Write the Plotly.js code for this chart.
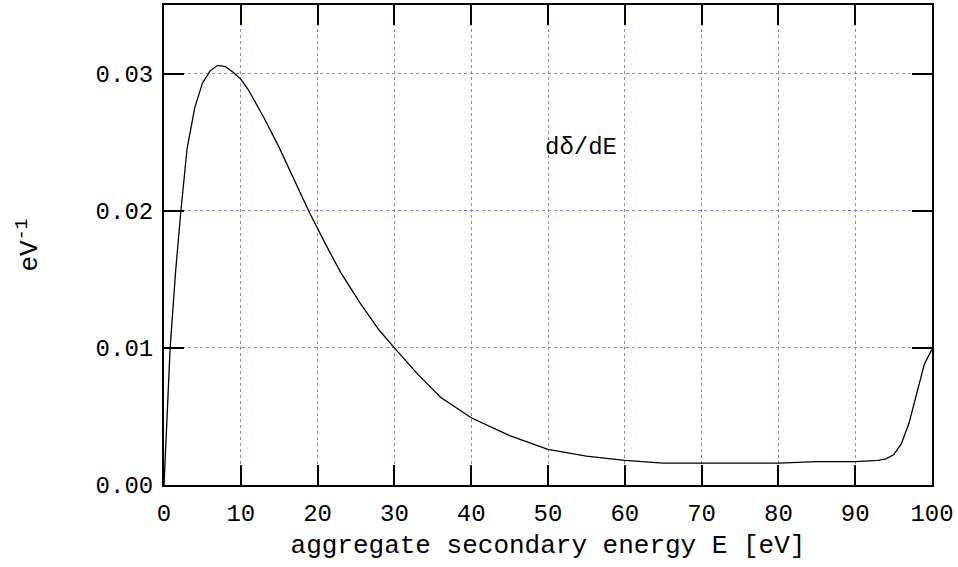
<!DOCTYPE html>
<html>
<head>
<meta charset="utf-8">
<script src="https://cdn.plot.ly/plotly-3.0.1.min.js"></script>
<style>html,body{margin:0;padding:0;background:#fff;}#chart{width:958px;height:567px;}</style>
</head>
<body>
<div id="chart"></div>
<script>
const energy = [0, 0.35, 0.8, 1.5, 2.2, 3, 4, 5, 6, 7, 8, 9, 10, 11, 13, 15, 17, 19, 21, 23, 25.5, 28, 30, 33, 36, 40, 45, 50, 55, 60, 65, 70, 75, 80, 85, 90, 93, 94, 95, 96, 97, 98, 99, 100];
const dDeltadE = [0, 0.0042, 0.010, 0.0155, 0.020, 0.0245, 0.0275, 0.0293, 0.0302, 0.0306, 0.0305, 0.0301, 0.0296, 0.0288, 0.0268, 0.0246, 0.0222, 0.0198, 0.0176, 0.0155, 0.0133, 0.0113, 0.0100, 0.0081, 0.0064, 0.0049, 0.0036, 0.0026, 0.0021, 0.0018, 0.0016, 0.0016, 0.0016, 0.0016, 0.0017, 0.0017, 0.0018, 0.0019, 0.0022, 0.0030, 0.0045, 0.0066, 0.0088, 0.0099];
const yTickVals = [0, 0.01, 0.02, 0.03];
const yTickText = ["0.00", "0.01", "0.02", "0.03"];
const xTickVals = [0, 10, 20, 30, 40, 50, 60, 70, 80, 90, 100];
const curveLabel = "dδ/dE";
const xTitle = "aggregate secondary energy E [eV]";
const yTitle = "eV<sup>-1</sup>";

const FONT = "Liberation Mono, Courier New, monospace";

const trace = {
  x: energy, y: dDeltadE, type: "scatter", mode: "lines",
  line: {color: "#000", width: 1.3}, showlegend: false, hoverinfo: "skip"
};

const axisCommon = {
  ticks: "inside", ticklen: 20, tickwidth: 2, tickcolor: "#000",
  showline: true, linewidth: 2, linecolor: "#000", mirror: "ticks",
  showgrid: true, gridcolor: "#8080ff", gridwidth: 1, griddash: "dot",
  zeroline: false, tickfont: {family: FONT, size: 24, color: "#000"}
};

const layout = {
  width: 958, height: 567,
  margin: {l: 164, r: 26, t: 5, b: 82},
  paper_bgcolor: "#fff", plot_bgcolor: "#fff",
  font: {family: FONT, color: "#000"},
  xaxis: Object.assign({}, axisCommon, {
    range: [0, 100], tickmode: "array", tickvals: xTickVals,
    ticklabelstandoff: 5,
    title: {text: xTitle, font: {family: FONT, size: 26}, standoff: 8}
  }),
  yaxis: Object.assign({}, axisCommon, {
    range: [0, 0.035], tickmode: "array", tickvals: yTickVals, ticktext: yTickText,
    ticklabelstandoff: 4,
    title: {text: yTitle, font: {family: FONT, size: 26}, standoff: 50}
  }),
  annotations: [{
    x: 49.3, y: 0.0246, xref: "x", yref: "y", text: curveLabel, showarrow: false,
    xanchor: "left", yanchor: "middle", font: {family: FONT, size: 24, color: "#000"}
  }]
};

Plotly.newPlot("chart", [trace], layout, {displayModeBar: false, staticPlot: true});
</script>
</body>
</html>
